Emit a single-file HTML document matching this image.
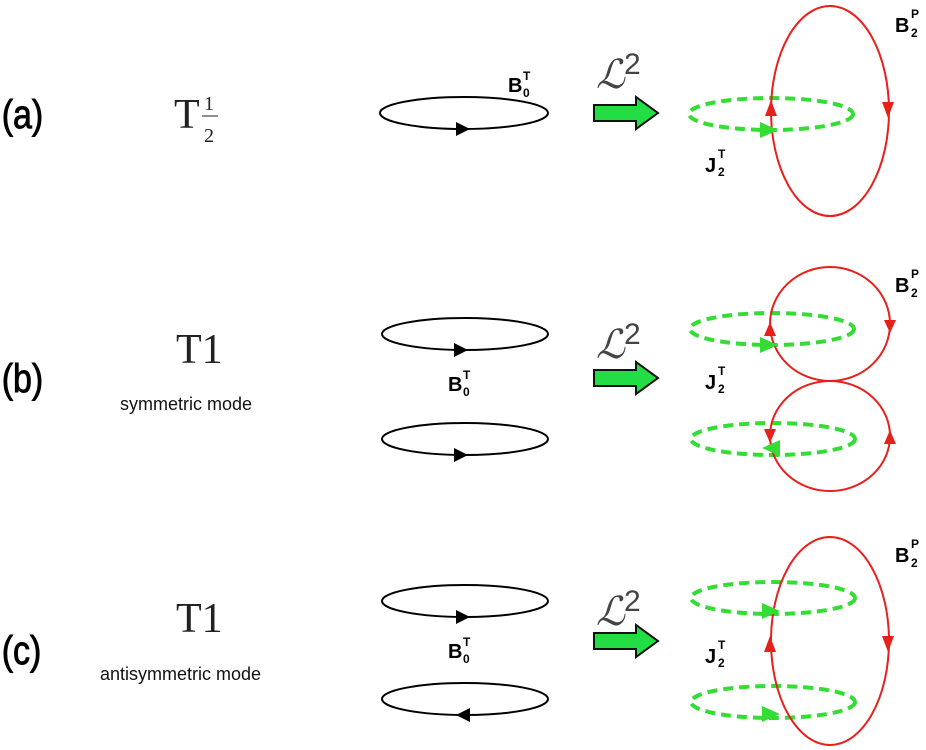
<!DOCTYPE html>
<html><head><meta charset="utf-8"><style>
html,body{margin:0;padding:0;background:#fff;}
svg{display:block;}
.lab{font-family:"Liberation Sans",sans-serif;font-size:40px;stroke:#000;stroke-width:0.9;}
.t{font-family:"Liberation Serif",serif;font-size:42px;fill:#222;}
.m{font-family:"Liberation Sans",sans-serif;font-size:18px;fill:#111;}
.b{font-family:"Liberation Sans",sans-serif;font-weight:bold;font-size:20px;}
.s{font-family:"Liberation Sans",sans-serif;font-weight:bold;font-size:12px;}
.L{font-family:"Liberation Serif",serif;font-style:italic;font-size:40px;fill:#444;}
</style></head><body>
<svg width="926" height="750" viewBox="0 0 926 750" xmlns="http://www.w3.org/2000/svg">
<defs>
<path id="garrow" d="M0,-8 L42,-8 L42,-16 L64,0 L42,16 L42,8 L0,8 Z" fill="#22dd44" stroke="#111" stroke-width="2" stroke-linejoin="miter"/>
</defs>
<text class="lab" x="2" y="128" transform="scale(0.85,1)">(a)</text>
<text class="lab" x="2" y="392" transform="scale(0.85,1)">(b)</text>
<text class="lab" x="2" y="664" transform="scale(0.85,1)">(c)</text>

<text class="t" x="174" y="128">T</text>
<text x="204" y="110" font-family="Liberation Serif" font-size="20" fill="#222">1</text>
<line x1="202" y1="116" x2="218" y2="116" stroke="#222" stroke-width="1"/>
<text x="204" y="142" font-family="Liberation Serif" font-size="20" fill="#222">2</text>

<text class="t" x="176" y="363">T1</text>
<text class="m" x="120" y="410">symmetric mode</text>
<text class="t" x="176" y="632">T1</text>
<text class="m" x="100" y="680">antisymmetric mode</text>

<g fill="none" stroke="#000" stroke-width="2">
<ellipse cx="464" cy="113" rx="84" ry="16"/>
<ellipse cx="465" cy="334" rx="83" ry="16"/>
<ellipse cx="465" cy="439" rx="83" ry="16"/>
<ellipse cx="465" cy="601" rx="83" ry="16"/>
<ellipse cx="465" cy="699" rx="83" ry="16"/>
</g>
<g fill="#000">
<path d="M456,122 L470,129 L456,136Z"/>
<path d="M454,343 L468,350 L454,357Z"/>
<path d="M454,448 L468,455 L454,462Z"/>
<path d="M456,610 L470,617 L456,624Z"/>
<path d="M470,708 L456,715 L470,722Z"/>
</g>
<text class="b" x="508" y="92">B</text><text class="s" x="523" y="80">T</text><text class="s" x="523" y="97">0</text>
<text class="b" x="448" y="391">B</text><text class="s" x="463" y="379">T</text><text class="s" x="463" y="396">0</text>
<text class="b" x="448" y="658">B</text><text class="s" x="463" y="646">T</text><text class="s" x="463" y="663">0</text>

<text class="L" x="596" y="88">ℒ</text><text x="624" y="74" font-family="Liberation Sans" font-size="30" fill="#444">2</text>
<text class="L" x="596" y="358">ℒ</text><text x="624" y="344" font-family="Liberation Sans" font-size="30" fill="#444">2</text>
<text class="L" x="596" y="625">ℒ</text><text x="624" y="611" font-family="Liberation Sans" font-size="30" fill="#444">2</text>
<use href="#garrow" x="594" y="113"/>
<use href="#garrow" x="594" y="378"/>
<use href="#garrow" x="594" y="641"/>

<g fill="none" stroke="#33dd33" stroke-width="4" stroke-dasharray="10,6">
<ellipse cx="771" cy="114" rx="82" ry="16"/>
<ellipse cx="772" cy="329" rx="82" ry="16"/>
<ellipse cx="773" cy="439" rx="82" ry="16"/>
<ellipse cx="773" cy="598" rx="82" ry="16"/>
<ellipse cx="773" cy="702" rx="82" ry="16"/>
</g>
<g fill="none" stroke="#e8201c" stroke-width="2">
<ellipse cx="830" cy="111" rx="59" ry="105"/>
<ellipse cx="830" cy="324" rx="60" ry="57"/>
<ellipse cx="830" cy="436" rx="60" ry="55"/>
<ellipse cx="830" cy="641" rx="59" ry="104"/>
</g>
<g fill="#e8201c">
<path d="M771,100 L765,116 L777,116Z"/>
<path d="M888,118 L882,102 L894,102Z"/>
<path d="M770,322 L764,336 L776,336Z"/>
<path d="M890,333 L884,320 L896,320Z"/>
<path d="M770,443 L764,429 L776,429Z"/>
<path d="M890,430 L884,444 L896,444Z"/>
<path d="M770,636 L764,652 L776,652Z"/>
<path d="M888,652 L882,636 L894,636Z"/>
</g>
<g fill="#33dd33">
<path d="M760,122 L778,130 L760,138Z"/>
<path d="M760,337 L778,345 L760,353Z"/>
<path d="M780,440 L762,448 L780,456Z"/>
<path d="M762,603 L780,611 L762,619Z"/>
<path d="M762,706 L780,714 L762,722Z"/>
</g>
<text class="b" x="705" y="172">J</text><text class="s" x="718" y="158">T</text><text class="s" x="718" y="176">2</text>
<text class="b" x="705" y="389">J</text><text class="s" x="718" y="375">T</text><text class="s" x="718" y="393">2</text>
<text class="b" x="705" y="663">J</text><text class="s" x="718" y="649">T</text><text class="s" x="718" y="667">2</text>
<text class="b" x="895" y="32">B</text><text class="s" x="911" y="18">P</text><text class="s" x="911" y="37">2</text>
<text class="b" x="895" y="292">B</text><text class="s" x="911" y="278">P</text><text class="s" x="911" y="297">2</text>
<text class="b" x="895" y="562">B</text><text class="s" x="911" y="548">P</text><text class="s" x="911" y="567">2</text>
</svg>
</body></html>
